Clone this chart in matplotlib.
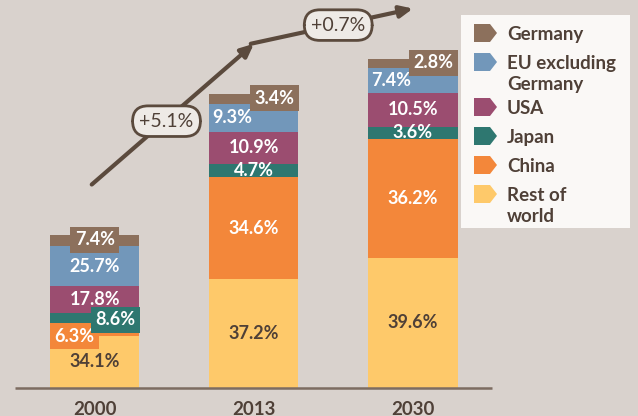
import matplotlib
matplotlib.use("Agg")
import matplotlib.pyplot as plt
from matplotlib.patches import Polygon
import numpy as np

# data
years = ["2000", "2013", "2030"]
regions = ["Germany", "EU excluding\nGermany", "USA", "Japan", "China", "Rest of\nworld"]
germany = [7.4, 3.4, 2.8]
eu_ex_germany = [25.7, 9.3, 7.4]
usa = [17.8, 10.9, 10.5]
japan = [8.6, 4.7, 3.6]
china = [6.3, 34.6, 36.2]
rest_of_world = [34.1, 37.2, 39.6]
market_size = [100, 192, 215]  # relative size, 2000 = 100
growth = ["+5.1%", "+0.7%"]

colors = ["#8c705c", "#7297ba", "#9b4d70", "#2e7770", "#f3873a", "#fec96a"]
BG = "#d9d2cd"
DARK = "#4f4037"
ARROW = "#5b4a3d"

plt.rcParams["font.family"] = ["Lato", "DejaVu Sans"]

fig = plt.figure(figsize=(6.38, 4.16), dpi=100)
fig.patch.set_facecolor(BG)
ax = fig.add_axes([0, 0, 1, 1])
ax.set_facecolor(BG)
ax.set_xlim(-0.597, 3.415)
ax.set_ylim(-18.3, 253.6)
ax.axis("off")

shares = np.array([germany, eu_ex_germany, usa, japan, china, rest_of_world])
x = np.arange(len(years))
width = 0.56

# stack from bottom (rest of world) to top (germany)
for i in range(len(years)):
    col = shares[:, i]
    heights = col / col.sum() * market_size[i]
    bottom = 0.0
    for k in range(len(regions) - 1, -1, -1):
        h = heights[k]
        ax.bar(x[i], h, width, bottom=bottom, color=colors[k], linewidth=0, zorder=2)
        yc = bottom + h / 2
        txt = f"{col[k]:.1f}%"
        name = regions[k]
        tcol = DARK if name.startswith("Rest") else "white"
        box = None
        ha = "center"
        xt = x[i]
        dx = 0
        if name == "Germany":
            box = colors[k]
            if i > 0:
                ha = "right"
                xt = x[i] + width / 2
                dx = -3
            yc += 0.5
        elif name.startswith("EU") and i > 0:
            ha = "left"
            xt = x[i] - width / 2
            dx = 2
        elif name == "Japan" and i == 0:
            box = colors[k]
            ha = "right"
            xt = x[i] + width / 2
            dx = -3
        elif name == "China" and i == 0:
            box = colors[k]
            ha = "left"
            xt = x[i] - width / 2
            dx = 3
            yc -= 3.5
        bbox = None
        if box:
            bbox = dict(boxstyle="square,pad=0.25", fc=box, ec="none")
        ax.annotate(txt, (xt, yc), xytext=(dx, 0), textcoords="offset points",
                    ha=ha, va="center", fontsize=13, fontweight="bold",
                    color=tcol, bbox=bbox, zorder=4)
        bottom += h

# baseline
ax.plot([-0.5, 2.5], [0, 0], color="#7d6c61", lw=1.8, zorder=3, solid_capstyle="butt")

# year labels
for i, yr in enumerate(years):
    ax.text(x[i], -8.5, yr, ha="center", va="top", fontsize=13.5,
            fontweight="bold", color=DARK)

# growth arrow above the bars
offset = 33
ay = np.array(market_size) + offset
for i in range(len(years) - 1):
    ax.annotate("", xy=(x[i + 1], ay[i + 1]), xytext=(x[i] - 0.02, ay[i]),
                arrowprops=dict(arrowstyle="-|>,head_length=0.55,head_width=0.25",
                                lw=3, color=ARROW, shrinkA=0, shrinkB=0,
                                mutation_scale=14),
                zorder=5)
for i, g in enumerate(growth):
    fx = 0.45 if i == 0 else 0.53
    xm = x[i] + fx
    ym = ay[i] + fx * (ay[i + 1] - ay[i])
    ax.text(xm, ym, g, ha="center", va="center", fontsize=14, color=DARK,
            zorder=6,
            bbox=dict(boxstyle="round,pad=0.35,rounding_size=0.8",
                      fc="#eeeae6", ec=ARROW, lw=2))

# legend panel
lax = fig.add_axes([461 / 638, 1 - 228 / 416, 169 / 638, 213 / 416])
lax.set_xlim(0, 169)
lax.set_ylim(213, 0)
lax.set_facecolor("#faf8f6")
lax.set_xticks([])
lax.set_yticks([])
for s in lax.spines.values():
    s.set_visible(False)

cy = 18
for k, name in enumerate(regions):
    pts = [(13, cy - 9), (29, cy - 9), (36, cy), (29, cy + 9), (13, cy + 9)]
    lax.add_patch(Polygon(pts, closed=True, fc=colors[k], ec="none"))
    for j, line in enumerate(name.split("\n")):
        lax.text(46, cy + 21 * j, line, ha="left", va="center_baseline",
                 fontsize=13.5, fontweight="bold", color=DARK)
    cy += 29 + 16 * name.count("\n")

fig.savefig("out.png", dpi=100, facecolor=BG)
